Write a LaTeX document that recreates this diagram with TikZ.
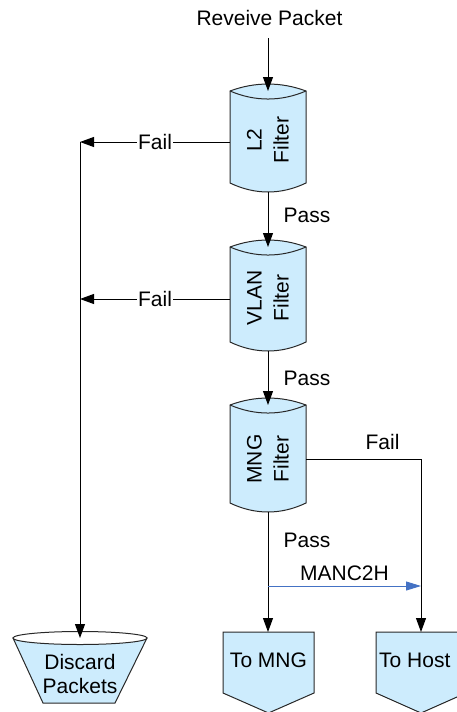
\documentclass[tikz,border=0pt]{standalone}
\usepackage{fontspec}
\setmainfont{Liberation Sans}
\usetikzlibrary{arrows.meta}
\definecolor{shapefill}{RGB}{205,236,253}
\definecolor{shapeline}{RGB}{40,40,40}
\definecolor{arrowblue}{RGB}{68,114,196}
\tikzset{
  lbl/.style={font=\fontsize{21}{25}\selectfont, inner sep=1pt},
  rlbl/.style={font=\fontsize{21}{27}\selectfont, rotate=90, align=center, inner sep=0pt},
  conn/.style={draw=black, line width=1pt, -{Triangle[length=14pt,width=10pt]}},
  plain/.style={draw=black, line width=1pt},
  shp/.style={draw=shapeline, line width=1pt, fill=shapefill},
  blueconn/.style={draw=arrowblue, line width=1pt, -{Triangle[length=15pt,width=9pt]}, arrowblue}
}
% drum: #1 name, #2 top y, #3 bottom y
\newcommand{\drumfilter}[3]{%
  \path[shp] (230,#2) .. controls (255,#2-9.3) and (281,#2-9.3) .. (306,#2)
     -- (306,#3) .. controls (281,#3+12) and (255,#3+12) .. (230,#3) -- cycle;
  \draw[draw=shapeline, line width=1pt] (230,#2) .. controls (255,#2+10.7) and (281,#2+10.7) .. (306,#2);
  \coordinate (#1-in) at (268,#2);
  \coordinate (#1-out) at (268,#3+9);
}
\begin{document}
\begin{tikzpicture}[x=1pt,y=-1pt]
\useasboundingbox (0,0) rectangle (457,712);
\clip (0,0) rectangle (457,712);

% receive label
\node[lbl] (recv) at (269.5,18) {Reveive Packet};

% filters
\drumfilter{l2}{91}{183}
\drumfilter{vlan}{247}{342}
\drumfilter{mng}{405}{503}
\node[rlbl] (l2t) at (268,140) {L2\\Filter};
\node[rlbl] (vlant) at (268,298) {VLAN\\Filter};
\node[rlbl] (mngt) at (268,459) {MNG\\Filter};

% side coordinates
\coordinate (l2-w) at (230,142);
\coordinate (vlan-w) at (230,299);
\coordinate (mng-e) at (306,459);
\coordinate (bus2) at (80,142);
\coordinate (bus3) at (80,299);
\coordinate (hostturn) at (421,459);
\coordinate (split) at (268,586);
\coordinate (hostjoin) at (421,586);
\coordinate (recv-top) at (268,38);

% discard
\path[shp] (13,638) -- (147,638) -- (115,703) -- (43,703) -- cycle;
\draw[draw=shapeline, line width=1pt, fill=white] (80,638) ellipse [x radius=67, y radius=6.5];
\node[lbl, align=center, font=\fontsize{21}{23.5}\selectfont] (discard) at (80,674) {Discard\\Packets};
\coordinate (discard-in) at (80,638);

% To MNG
\path[shp] (223,632) -- (314,632) -- (314,693) -- (268.5,713) -- (223,693) -- cycle;
\node[lbl] (tomng) at (268.5,660) {To MNG};
\coordinate (tomng-in) at (268,632);

% To Host
\path[shp] (376,632) -- (466,632) -- (466,693) -- (421,713) -- (376,693) -- cycle;
\node[lbl, anchor=west] (tohost) at (378,660) {To Host};
\coordinate (tohost-in) at (421,632);

% connectors
\draw[conn] (recv-top) -- (l2-in);
\draw[conn] (l2-out) -- (vlan-in);
\draw[conn] (vlan-out) -- (mng-in);
\draw[conn] (mng-out) -- (tomng-in);
\draw[conn] (l2-w) -- (bus2);
\draw[conn] (vlan-w) -- (bus3);
\draw[conn] (bus2) -- (discard-in);
\draw[plain] (mng-e) -- (hostturn);
\draw[conn] (hostturn) -- (tohost-in);
\draw[blueconn] (split) -- (hostjoin);

% labels
\node[lbl, fill=white] (fail1) at (155,142) {Fail};
\node[lbl, fill=white] (fail2) at (155,299) {Fail};
\node[lbl] (fail3) at (382.5,442) {Fail};
\node[lbl] (pass1) at (307,215) {Pass};
\node[lbl] (pass2) at (307,378) {Pass};
\node[lbl] (pass3) at (307,540) {Pass};
\node[lbl] (manc) at (344.5,573) {MANC2H};
\end{tikzpicture}
\end{document}
